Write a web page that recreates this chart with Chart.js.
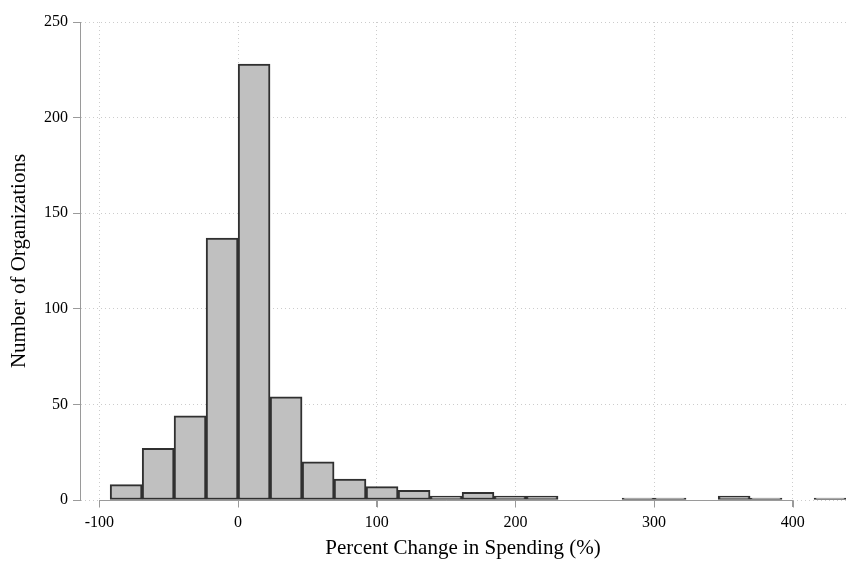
<!DOCTYPE html>
<html>
<head>
<meta charset="utf-8">
<script src="https://cdn.jsdelivr.net/npm/chart.js@4"></script>
<style>
  html, body { margin: 0; padding: 0; background: #fff; }
  #wrap { width: 846px; height: 562px; }
</style>
</head>
<body>
<div id="wrap"><canvas id="chart" width="846" height="562"></canvas></div>
<script>
// Histogram bins (left edge of each bin, % change) and counts
const binLeft = [-92.3, -69.2, -46.2, -23.1, 0, 23.1, 46.2, 69.2, 92.3, 115.4, 138.5, 161.5,
  184.6, 207.7, 230.8, 253.8, 276.9, 300, 323.1, 346.2, 369.2, 392.3, 415.4];
const binWidth = 23.08;
const counts = [8, 27, 44, 137, 228, 54, 20, 11, 7, 5, 2, 4, 2, 2, 0, 0, 1, 1, 0, 2, 1, 0, 1];

const xTicks = [-100, 0, 100, 200, 300, 400];
const yTicks = [0, 50, 100, 150, 200, 250];

const serif = "'Liberation Serif', 'Times New Roman', serif";
const axisGray = "#9a9a9a";

// solid x axis line + tick marks only between first and last tick (Stata style)
const xAxisLine = {
  id: "xAxisLine",
  beforeDatasetsDraw(chart) {
    const x = chart.scales.x;
    const y = chart.scales.y;
    const ctx = chart.ctx;
    const yy = Math.round(y.getPixelForValue(0)) + 0.5;
    ctx.save();
    ctx.strokeStyle = axisGray;
    ctx.lineWidth = 1;
    ctx.beginPath();
    ctx.moveTo(x.getPixelForValue(xTicks[0]), yy);
    ctx.lineTo(x.getPixelForValue(xTicks[xTicks.length - 1]), yy);
    xTicks.forEach((v) => {
      const px = Math.round(x.getPixelForValue(v)) + 0.5;
      ctx.moveTo(px, yy);
      ctx.lineTo(px, yy + 7);
    });
    ctx.stroke();
    ctx.restore();
  },
};

const ctx = document.getElementById("chart").getContext("2d");
new Chart(ctx, {
  type: "bar",
  data: {
    datasets: [
      {
        data: binLeft.map((l, i) => ({ x: l + binWidth / 2, y: counts[i] })),
        backgroundColor: "#c0c0c0",
        borderColor: "#303030",
        borderWidth: 2,
        borderSkipped: false,
        barPercentage: 1,
        categoryPercentage: 1,
      },
    ],
  },
  options: {
    responsive: false,
    animation: false,
    layout: { padding: { top: 22, right: 0, left: 0, bottom: 0 } },
    plugins: {
      legend: { display: false },
      tooltip: { enabled: false },
    },
    scales: {
      x: {
        type: "linear",
        offset: false,
        min: -114,
        max: 438.4,
        afterFit: (s) => { s.height = 62; },
        afterBuildTicks: (s) => { s.ticks = xTicks.map((v) => ({ value: v })); },
        border: { display: false, dash: [1, 3] },
        grid: {
          offset: false,
          color: "#cccccc",
          tickColor: axisGray,
          tickWidth: 1,
          tickLength: 7,
          tickBorderDash: [],
        },
        ticks: {
          color: "#000",
          padding: 6,
          maxRotation: 0,
          font: { family: serif, size: 16 },
        },
        title: {
          display: true,
          text: "Percent Change in Spending (%)",
          color: "#000",
          font: { family: serif, size: 21 },
          padding: { top: 0, bottom: 1 },
        },
      },
      y: {
        min: 0,
        max: 250,
        afterFit: (s) => { s.width = 80; },
        afterBuildTicks: (s) => { s.ticks = yTicks.map((v) => ({ value: v })); },
        border: { display: true, color: axisGray, width: 1, dash: [1, 3] },
        grid: {
          color: "#cccccc",
          tickColor: axisGray,
          tickWidth: 1,
          tickLength: 7,
          tickBorderDash: [],
        },
        ticks: {
          color: "#000",
          padding: 5,
          font: { family: serif, size: 16 },
        },
        title: {
          display: true,
          text: "Number of Organizations",
          color: "#000",
          font: { family: serif, size: 21 },
          padding: { top: 7, bottom: 0 },
        },
      },
    },
  },
  plugins: [xAxisLine],
});
</script>
</body>
</html>
